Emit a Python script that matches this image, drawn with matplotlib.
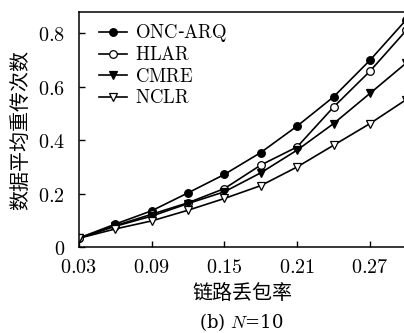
"""Average retransmission count vs. link loss rate, N=10."""

import matplotlib

matplotlib.use("Agg")
import matplotlib.pyplot as plt

plt.rcParams["mathtext.fontset"] = "cm"
plt.rcParams["font.family"] = ["Noto Sans CJK SC", "DejaVu Sans"]

loss_rate = [0.03, 0.06, 0.09, 0.12, 0.15, 0.18, 0.21, 0.24, 0.27, 0.30]
onc_arq = [0.034, 0.086, 0.136, 0.203, 0.272, 0.354, 0.453, 0.562, 0.699, 0.851]
hlar = [0.034, 0.080, 0.123, 0.166, 0.219, 0.307, 0.375, 0.524, 0.658, 0.811]
cmre = [0.033, 0.078, 0.116, 0.163, 0.207, 0.278, 0.363, 0.462, 0.575, 0.689]
nclr = [0.033, 0.068, 0.098, 0.138, 0.182, 0.230, 0.300, 0.381, 0.462, 0.552]

x_ticks = [0.03, 0.09, 0.15, 0.21, 0.27]
x_tick_labels = ["0.03", "0.09", "0.15", "0.21", "0.27"]
y_ticks = [0, 0.2, 0.4, 0.6, 0.8]
y_tick_labels = ["0", "0.2", "0.4", "0.6", "0.8"]

_SERIES = (
    ("ONC-ARQ", onc_arq, "o", "black"),
    ("HLAR", hlar, "o", "white"),
    ("CMRE", cmre, "v", "black"),
    ("NCLR", nclr, "v", "white"),
)


def _math(text: str) -> str:
    """Wrap plain text in Computer Modern roman mathtext."""
    return r"$\mathrm{" + text.replace("-", "}$-$\\mathrm{") + "}$"


def main() -> None:
    fig = plt.figure(figsize=(4.04, 3.33), dpi=100)
    ax = fig.add_axes([0.1955, 0.258, 0.81, 0.706])

    for name, values, marker, face in _SERIES:
        ax.plot(
            loss_rate,
            values,
            color="black",
            linewidth=1.2,
            marker=marker,
            markersize=5.5,
            markerfacecolor=face,
            markeredgecolor="black",
            markeredgewidth=0.9,
            label=_math(name),
        )

    ax.set_xlim(0.03, 0.3)
    ax.set_ylim(0, 0.88)
    ax.set_xticks(x_ticks)
    ax.set_xticklabels([f"${t}$" for t in x_tick_labels], fontsize=14.5)
    ax.set_yticks(y_ticks)
    ax.set_yticklabels([f"${t}$" for t in y_tick_labels], fontsize=14.5)
    ax.tick_params(direction="in", length=4, width=1.0)
    ax.tick_params(axis="x", pad=7)
    ax.tick_params(axis="y", pad=10)
    ax.spines["right"].set_visible(False)
    for side in ("left", "top", "bottom"):
        ax.spines[side].set_linewidth(1.1)

    ax.set_ylabel("数据平均重传次数", fontsize=14.4, labelpad=5)
    ax.set_xlabel("链路丢包率", fontsize=14.4, labelpad=4)
    fig.text(0.597, 0.033, r"(b) $N$=10", fontsize=13, ha="center", va="center",
             family=["DejaVu Serif"], math_fontfamily="cm")

    ax.legend(
        loc="upper left",
        bbox_to_anchor=(0.026, 1.005),
        frameon=False,
        fontsize=13.5,
        handlelength=1.5,
        handletextpad=0.45,
        labelspacing=0.02,
        borderaxespad=0.2,
    )

    fig.savefig("out.png", dpi=100)
    plt.close(fig)


if __name__ == "__main__":
    main()
